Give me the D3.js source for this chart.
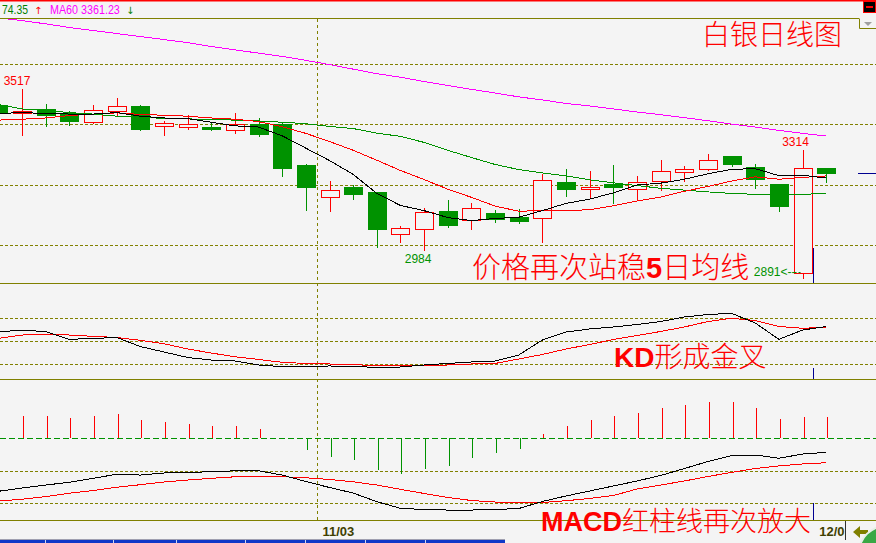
<!DOCTYPE html>
<html><head><meta charset="utf-8">
<script src="https://cdn.jsdelivr.net/npm/d3@7/dist/d3.min.js"></script>
<style>html,body{margin:0;padding:0;background:#f4f4f4;overflow:hidden}svg{display:block}</style>
</head><body><svg id="c" width="876" height="543"></svg>
<script>
// ---------------- data ----------------
const categories = ["10/13","10/14","10/15","10/16","10/19","10/20","10/21","10/22","10/23","10/26","10/27","10/28","10/29","10/30",
  "11/03","11/04","11/05","11/06","11/07","11/09","11/10","11/11","11/12","11/13","11/16","11/17","11/18","11/19","11/20",
  "11/23","11/24","11/25","11/26","11/27","11/30","12/01"];
const openP  = [3464,3438,3451,3437,3409,3443,3461,3393,3390,3391,3380,3401,3401,3265,3158,3191,3177,3035,3052,3113,3082,3105,3093,3088,3209,3186,3201,3185,3212,3241,3253,3295,3258,3202,2907,3255];
const highP  = [3472,3517,3467,3444,3464,3487,3464,3411,3431,3407,3438,3421,3408,3268,3213,3199,3177,3063,3122,3149,3138,3116,3119,3235,3252,3245,3265,3229,3282,3262,3302,3295,3268,3202,3314,3255];
const lowP   = [3425,3365,3394,3398,3404,3431,3381,3365,3385,3381,3372,3361,3229,3116,3114,3152,2994,3011,2984,3061,3052,3075,3072,3011,3163,3157,3138,3152,3182,3213,3249,3262,3188,3114,2891,3210];
const closeP = [3439,3444,3431,3411,3447,3461,3385,3403,3400,3386,3400,3368,3256,3193,3182,3170,3054,3056,3108,3067,3122,3085,3080,3215,3187,3191,3193,3208,3245,3252,3282,3270,3218,3130,3254,3240];
const ma5  = [3437,3438,3437,3434,3434,3439,3427,3421,3419,3407,3395,3391,3362,3321,3280,3234,3171,3131,3114,3091,3081,3088,3092,3114,3138,3152,3173,3199,3205,3218,3236,3251,3253,3230,3231,3222];
const ma10 = [3414,3417,3421,3429,3434,3438,3433,3430,3427,3421,3417,3409,3392,3370,3343,3314,3281,3247,3217,3185,3158,3129,3112,3114,3114,3117,3130,3146,3159,3178,3194,3212,3226,3218,3224,3229];
const ma20 = [3466,3451,3446,3439,3434,3427,3423,3420,3418,3416,3414,3411,3407,3402,3393,3386,3371,3360,3340,3314,3290,3267,3250,3239,3229,3216,3206,3197,3188,3182,3176,3171,3168,3168,3168,3171];
const ma60 = [3753,3744,3733,3721,3711,3701,3691,3681,3671,3658,3647,3636,3625,3612,3598,3583,3568,3556,3542,3529,3516,3504,3491,3481,3469,3461,3451,3441,3432,3422,3412,3401,3391,3380,3370,3361.23];
const kLine = [62.1,64.0,62.4,52.2,53.3,54.6,42.8,35.7,28.5,25.2,23.9,18.7,16.5,17.0,17.4,17.0,15.4,16.1,18.7,20.7,22.6,23.9,31.7,51.3,61.7,65.7,68.3,71.5,75.4,81.3,84.6,86.1,73.5,52.2,64.3,68.9];
const dLine = [53.5,57.8,58.5,57.8,56.1,54.6,50.9,46.5,39.6,34.3,29.5,25.9,22.2,20.7,20.0,19.1,18.0,17.4,18.0,18.7,20.0,20.7,26.5,32.4,39.6,45.4,52.0,57.2,62.4,68.3,75.4,79.6,76.7,68.9,66.6,67.9];
const dif = [-49.2,-46.2,-43.4,-40.9,-37.2,-33.5,-34.2,-32.3,-31.7,-31.2,-30.3,-30.3,-34.2,-40.2,-45.7,-50.8,-58.8,-64.9,-66.0,-66.5,-66.5,-66.0,-65.1,-58.6,-53.5,-48.9,-44.3,-39.7,-34.6,-28.2,-21.7,-16.3,-15.7,-18.7,-14.8,-13.2];
const dea = [-58.2,-56.5,-54.1,-51.0,-48.5,-45.5,-43.1,-40.6,-38.8,-37.2,-35.8,-35.7,-35.7,-36.7,-38.3,-40.4,-43.4,-47.4,-51.2,-54.9,-57.7,-59.1,-59.7,-59.5,-57.9,-55.8,-53.1,-47.1,-43.4,-39.7,-35.5,-31.8,-28.2,-25.8,-24.0,-22.8];
const macdBar = [19.0,20.6,20.6,18.7,20.6,22.4,16.9,15.0,13.2,11.4,11.4,8.6,0.0,-10.8,-17.3,-20.0,-29.3,-33.0,-28.3,-25.6,-18.2,-13.6,-9.9,4.0,11.4,16.9,20.6,23.4,28.0,30.7,33.5,33.5,28.0,17.8,19.7,19.7];
const priceTicks = [3000,3200,3400,3600];
const kdTicks = [20,50,80];
const macdTicks = [-60,-30];
const headerTexts = ["74.35","↑","MA60 3361.23","↓"];
const titleText = [["白银日线图",0]];
const note1 = [["价格再次站稳",0],["5",1],["日均线",0]];
const note2 = [["KD",1],["形成金叉",0]];
const note3 = [["MACD",1],["红柱线再次放大",0]];

// ---------------- drawing ----------------
const W = 876, H = 543;
const svg = d3.select("#c");
const OLIVE = "#808000", RED = "#ff0000", GREEN = "#009200", BG = "#f4f4f4";
svg.append("rect").attr("width", W).attr("height", H).attr("fill", BG);

const X = d3.scaleLinear().domain([0, 35]).range([-1.6, 826.2]);
const yP = d3.scaleLinear().domain([3000, 3600]).range([245, 64]);
const yK = d3.scaleLinear().domain([20, 80]).range([364, 318]);
const yM = d3.scaleLinear().domain([-60, 0]).range([503, 438]);
const px = v => Math.round(v) + 0.5;

const defs = svg.append("defs");
defs.append("clipPath").attr("id", "cpMain").append("rect").attr("x", 0).attr("y", 19).attr("width", W).attr("height", 264);
defs.append("clipPath").attr("id", "cpKD").append("rect").attr("x", 0).attr("y", 284).attr("width", W).attr("height", 95);
defs.append("clipPath").attr("id", "cpM").append("rect").attr("x", 0).attr("y", 380).attr("width", W).attr("height", 140);
defs.append("clipPath").attr("id", "cpDate").append("rect").attr("x", 0).attr("y", 520).attr("width", 845).attr("height", 20);

// top red line and header line
svg.append("rect").attr("x", 0).attr("y", 0).attr("width", W).attr("height", 1.5).attr("fill", RED);
svg.append("line").attr("x1", 0).attr("x2", 859).attr("y1", 18.5).attr("y2", 18.5).attr("stroke", OLIVE);

// header text (horizontally condensed like the narrow bitmap font of the original)
const hfont = "Liberation Sans, Arial, sans-serif";
svg.append("text").attr("transform", "translate(2,14) scale(0.83,1)").attr("font-family", hfont).attr("font-size", 12.5)
  .attr("fill", "#008000").text(headerTexts[0]);
svg.append("text").attr("x", 34).attr("y", 14).attr("font-family", "DejaVu Sans").attr("font-size", 10).attr("fill", RED).text(headerTexts[1]);
svg.append("text").attr("transform", "translate(50,14) scale(0.86,1)").attr("font-family", hfont).attr("font-size", 12.5)
  .attr("fill", "#ff00ff").text(headerTexts[2]);
svg.append("text").attr("x", 126).attr("y", 14).attr("font-family", "DejaVu Sans").attr("font-size", 10).attr("fill", "#008000").text(headerTexts[3]);

// top-right chrome
svg.append("rect").attr("x", 863.5).attr("y", 1.5).attr("width", 12).attr("height", 11).attr("fill", "#000").attr("stroke", RED);
svg.append("rect").attr("x", 866).attr("y", 6).attr("width", 7).attr("height", 2).attr("fill", RED);
svg.append("path").attr("d", "M859.5,18.5V28.5H876").attr("fill", "none").attr("stroke", OLIVE);
svg.append("path").attr("d", "M864,22H872L868,26Z").attr("fill", "#a0a0a0");

// grids
const grid = svg.append("g").attr("stroke", OLIVE).attr("stroke-dasharray", "3,2").attr("shape-rendering", "crispEdges");
priceTicks.forEach(t => grid.append("line").attr("x1", 0).attr("x2", W).attr("y1", px(yP(t))).attr("y2", px(yP(t))));
kdTicks.forEach(t => grid.append("line").attr("x1", 0).attr("x2", W).attr("y1", px(yK(t))).attr("y2", px(yK(t))));
macdTicks.forEach(t => grid.append("line").attr("x1", 0).attr("x2", W).attr("y1", px(yM(t))).attr("y2", px(yM(t))));
svg.append("line").attr("x1", 0).attr("x2", W).attr("y1", px(yM(0))).attr("y2", px(yM(0)))
  .attr("stroke", GREEN).attr("stroke-dasharray", "6,3").attr("shape-rendering", "crispEdges");

// panel separators
[283, 379, 520].forEach(y => svg.append("line").attr("x1", 0).attr("x2", W).attr("y1", y + 0.5).attr("y2", y + 0.5).attr("stroke", OLIVE));

// month separators
const monthStarts = [];
categories.forEach((d, i) => { if (i > 0 && d.slice(0, 2) !== categories[i - 1].slice(0, 2)) monthStarts.push(i); });
const sep1 = px((X(monthStarts[0] - 1) + X(monthStarts[0])) / 2) - 1;
svg.append("line").attr("x1", sep1).attr("x2", sep1).attr("y1", 19).attr("y2", 520)
  .attr("stroke", OLIVE).attr("stroke-dasharray", "3,3").attr("shape-rendering", "crispEdges");
const sep2 = px((X(monthStarts[1] - 1) + X(monthStarts[1])) / 2) - 1;
[[248, 283], [368, 379], [503, 520]].forEach(s => svg.append("line").attr("x1", sep2).attr("x2", sep2).attr("y1", s[0]).attr("y2", s[1]).attr("stroke", "#000090"));

// candles
const main = svg.append("g").attr("clip-path", "url(#cpMain)").attr("shape-rendering", "crispEdges");
closeP.forEach((c, i) => {
  const o = openP[i], h = highP[i], l = lowP[i];
  const cx = Math.round(X(i));
  const yo = Math.round(yP(o)), yc = Math.round(yP(c)), yh = Math.round(yP(h)), yl = Math.round(yP(l));
  if (c >= o) {
    const top = yc, bot = Math.max(yo, yc + 1);
    main.append("line").attr("x1", cx + 0.5).attr("x2", cx + 0.5).attr("y1", yh).attr("y2", top).attr("stroke", RED);
    main.append("line").attr("x1", cx + 0.5).attr("x2", cx + 0.5).attr("y1", bot + 1).attr("y2", yl + 1).attr("stroke", RED);
    main.append("rect").attr("x", cx - 8.5).attr("y", top + 0.5).attr("width", 18).attr("height", bot - top)
      .attr("fill", BG).attr("stroke", RED);
  } else {
    main.append("line").attr("x1", cx + 0.5).attr("x2", cx + 0.5).attr("y1", yh).attr("y2", yl + 1).attr("stroke", GREEN);
    main.append("rect").attr("x", cx - 9).attr("y", yo).attr("width", 19).attr("height", Math.max(2, yc - yo + 1)).attr("fill", GREEN);
  }
});

// moving averages
const lineG = (arr, yS) => d3.line().x((d, i) => X(i)).y(d => yS(d))(arr);
const mas = svg.append("g").attr("clip-path", "url(#cpMain)").attr("fill", "none").attr("shape-rendering", "crispEdges");
mas.append("path").attr("d", lineG(ma60, yP)).attr("stroke", "#ff00ff");
mas.append("path").attr("d", lineG(ma20, yP)).attr("stroke", GREEN);
mas.append("path").attr("d", lineG(ma10, yP)).attr("stroke", RED);
mas.append("path").attr("d", lineG(ma5, yP)).attr("stroke", "#000");

// last price marker
svg.append("line").attr("x1", 858).attr("x2", W).attr("y1", px(yP(closeP[35]))).attr("y2", px(yP(closeP[35]))).attr("stroke", "#000090");

// high / low labels
const lbl = svg.append("g").attr("font-family", "Liberation Sans, Arial, sans-serif").attr("font-size", 12);
const iMax = d3.maxIndex(highP), iMin = d3.minIndex(lowP);
lbl.append("text").attr("x", X(iMax) - 5).attr("y", yP(highP[iMax]) - 4).attr("text-anchor", "middle").attr("fill", RED).text(String(highP[iMax]));
const iH2 = d3.maxIndex(highP.slice(24)) + 24;
lbl.append("text").attr("x", X(iH2) - 7).attr("y", yP(highP[iH2]) - 4).attr("text-anchor", "middle").attr("fill", RED).text(String(highP[iH2]));
const iL2 = d3.minIndex(lowP.slice(0, 24));
lbl.append("text").attr("x", X(iL2) - 6).attr("y", yP(lowP[iL2]) + 13).attr("text-anchor", "middle").attr("fill", GREEN).text(String(lowP[iL2]));
lbl.append("text").attr("x", X(iMin) - 7).attr("y", yP(lowP[iMin]) - 2).attr("text-anchor", "end").attr("fill", GREEN).text(lowP[iMin] + "<--");
svg.append("line").attr("x1", X(iMin) - 8).attr("x2", X(iMin)).attr("y1", px(yP(lowP[iMin]) - 6)).attr("y2", px(yP(lowP[iMin]) - 6))
  .attr("stroke", GREEN).attr("stroke-dasharray", "2,2");

// KD
const kd = svg.append("g").attr("clip-path", "url(#cpKD)").attr("fill", "none").attr("shape-rendering", "crispEdges");
kd.append("path").attr("d", lineG(dLine, yK)).attr("stroke", RED);
kd.append("path").attr("d", lineG(kLine, yK)).attr("stroke", "#000");

// MACD
const mg = svg.append("g").attr("clip-path", "url(#cpM)").attr("shape-rendering", "crispEdges");
macdBar.forEach((v, i) => {
  if (Math.abs(v) < 0.5) return;
  const x0 = Math.round(X(i)) + 1.5;
  mg.append("line").attr("x1", x0).attr("x2", x0).attr("y1", yM(0)).attr("y2", Math.round(yM(v)))
    .attr("stroke", v > 0 ? RED : GREEN);
});
mg.append("path").attr("d", lineG(dea, yM)).attr("stroke", RED).attr("fill", "none");
mg.append("path").attr("d", lineG(dif, yM)).attr("stroke", "#000").attr("fill", "none");

// date axis
const dg = svg.append("g").attr("clip-path", "url(#cpDate)").attr("font-family", "Liberation Sans, Arial, sans-serif")
  .attr("font-size", 13).attr("font-weight", "bold").attr("fill", "#404000");
monthStarts.forEach(i => dg.append("text").attr("x", X(i) - 7).attr("y", 536).text(categories[i]));
svg.append("line").attr("x1", sep1).attr("x2", sep1).attr("y1", 517).attr("y2", 520).attr("stroke", OLIVE);
svg.append("line").attr("x1", 845.5).attr("x2", 845.5).attr("y1", 521).attr("y2", 540).attr("stroke", "#303030");
svg.append("path").attr("d", "M853,532L860,526V530H868V534H860V538Z").attr("fill", OLIVE);
svg.append("circle").attr("cx", 886).attr("cy", 553).attr("r", 27).attr("fill", "#3aa845").attr("stroke", "#e8f0e8").attr("stroke-width", 2);

// bottom tab bar
svg.append("rect").attr("x", 0).attr("y", 539).attr("width", 505).attr("height", 1).attr("fill", "#a0a0b0");
svg.append("rect").attr("x", 0).attr("y", 540).attr("width", 505).attr("height", 3).attr("fill", "#1038c8");
[45, 113, 176, 245, 305, 365, 425].forEach(x => svg.append("rect").attr("x", x).attr("y", 540).attr("width", 1).attr("height", 3).attr("fill", "#d0d8f0"));

// annotations
function note(parts, x, y, size) {
  const t = svg.append("text").attr("x", x).attr("y", y).attr("fill", RED).attr("font-size", size);
  parts.forEach(p => {
    const s = t.append("tspan").text(p[0]);
    if (p[1]) s.attr("font-family", "Liberation Sans, Arial, sans-serif").attr("font-weight", "bold");
    else s.attr("font-family", "Noto Sans CJK SC").attr("font-weight", 300);
  });
}
note(titleText, 702, 45, 28);
note(note1, 472, 278, 29);
note(note2, 614, 367, 28);
note(note3, 541, 531, 27);
</script></body></html>
